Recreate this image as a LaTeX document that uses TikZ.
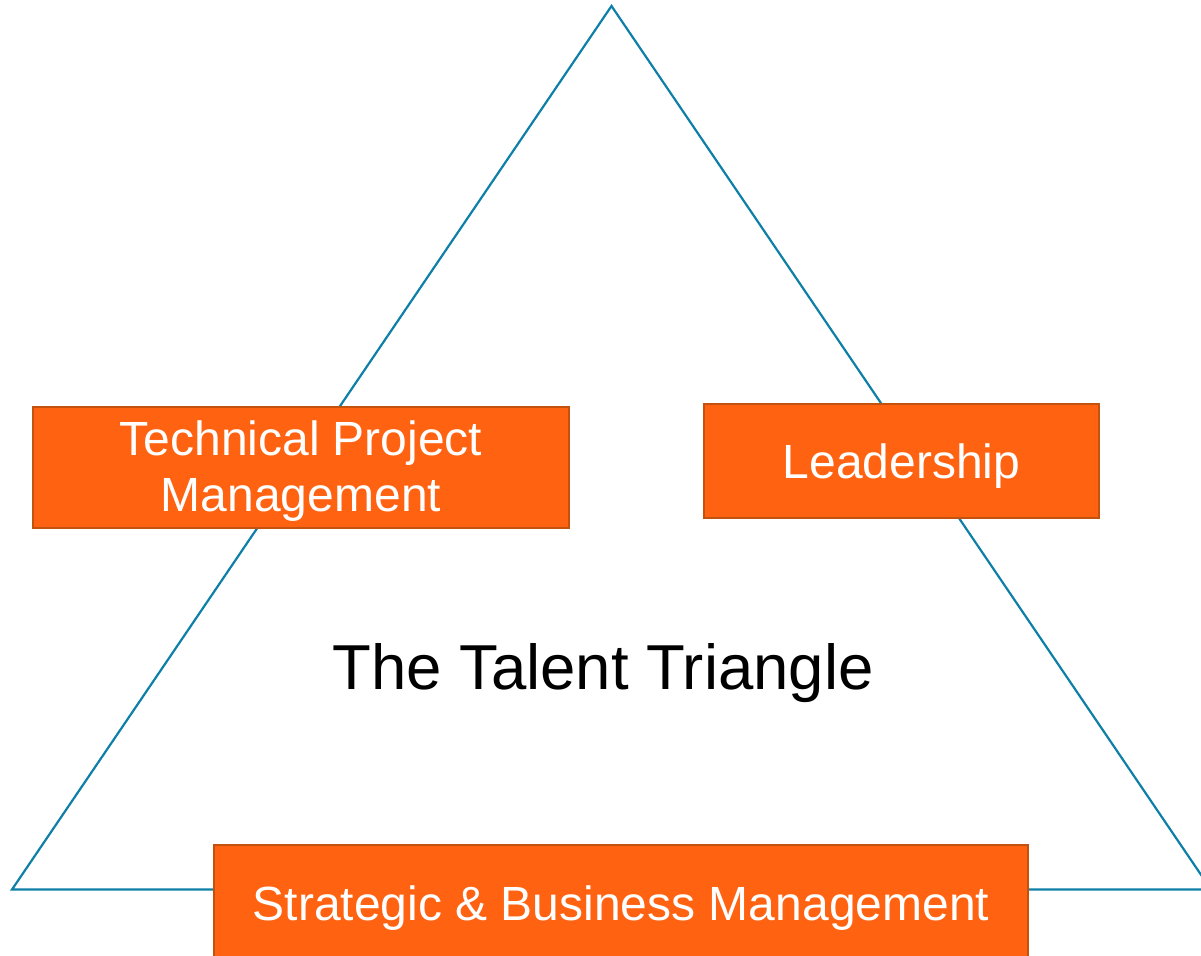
\documentclass[tikz,border=0pt]{standalone}
\usepackage{fontspec}
\setmainfont{Liberation Sans}
\definecolor{tri}{HTML}{0E80A8}
\definecolor{boxfill}{HTML}{FF6210}
\definecolor{boxline}{HTML}{C4520F}
\tikzset{
  talentbox/.style={draw=boxline, line width=2pt, fill=boxfill, inner sep=0pt},
  boxtext/.style={text=white, font=\fontsize{48}{56}\selectfont, align=center, inner sep=0pt},
  triline/.style={draw=tri, line width=2.2pt, line join=miter}
}
\begin{document}
\begin{tikzpicture}[x=1pt,y=-1pt]
\useasboundingbox (0,0) rectangle (1201,955);
\clip (0,0) rectangle (1201,955);
\coordinate (apex) at (611.5,6);
\coordinate (bl) at (12,889.5);
\coordinate (br) at (1211,889.5);
\draw[triline] (bl) -- (apex) -- (br) -- cycle;
\node[talentbox, minimum width=536pt, minimum height=121pt] (tpm) at (301,467.5) {};
\node[boxtext] (tpmtext) at ([yshift=-4pt]tpm.center) {Technical Project\\Management};
\node[talentbox, minimum width=395pt, minimum height=114pt] (lead) at (901.5,461) {};
\node[boxtext] (leadtext) at ([yshift=-5pt]lead.center) {Leadership};
\node[talentbox, minimum width=814pt, minimum height=120pt] (sbm) at (621,905) {};
\node[boxtext] (sbmtext) at (621,908) {Strategic \& Business Management};
\node[font=\fontsize{63.5}{70}\selectfont, text=black, inner sep=0pt] (title) at (603,673) {The Talent Triangle};
\end{tikzpicture}
\end{document}
